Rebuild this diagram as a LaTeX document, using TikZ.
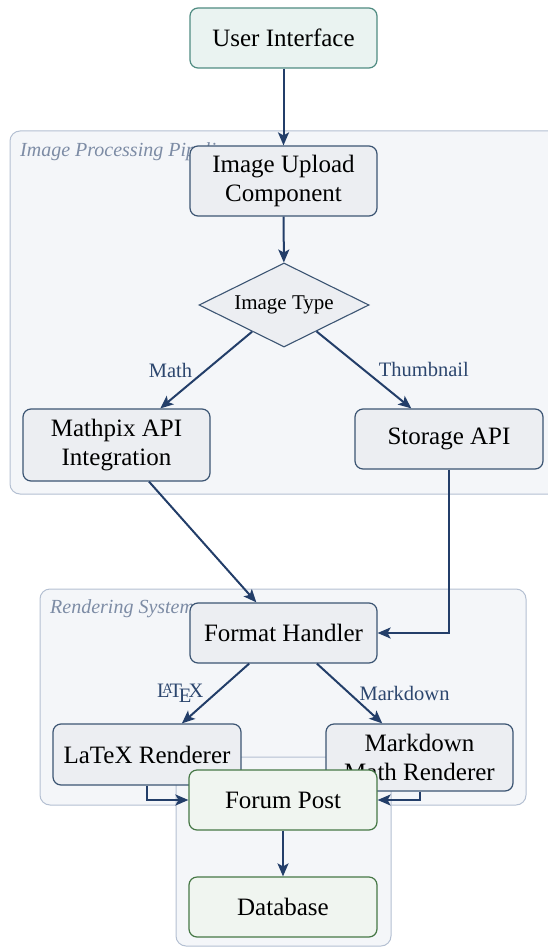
\documentclass[tikz,border=0pt]{standalone}
\usepackage{fontspec}
\setmainfont{Liberation Serif}
\usetikzlibrary{shapes.geometric,arrows.meta}
\definecolor{edgecol}{RGB}{35,62,105}
\definecolor{labcol}{RGB}{44,70,110}
\definecolor{nodeborder}{RGB}{60,85,115}
\definecolor{nodefill}{RGB}{236,238,242}
\definecolor{uifill}{RGB}{234,243,241}
\definecolor{uiborder}{RGB}{80,140,130}
\definecolor{greenfill}{RGB}{240,245,240}
\definecolor{greenborder}{RGB}{70,120,70}
\definecolor{groupfill}{RGB}{244,246,249}
\definecolor{groupborder}{RGB}{180,192,210}
\definecolor{grouplab}{RGB}{125,140,165}
\tikzset{
  box/.style={rectangle, rounded corners=8pt, draw=nodeborder, fill=nodefill, line width=1.2pt,
    minimum width=187pt, align=center, font=\fontsize{25}{29}\selectfont, inner sep=0pt},
  uibox/.style={box, draw=uiborder, fill=uifill},
  greenbox/.style={box, draw=greenborder, fill=greenfill},
  decision/.style={diamond, draw=nodeborder, fill=nodefill, line width=1.1pt, aspect=2,
    minimum width=170pt, minimum height=84pt, inner sep=0pt, font=\fontsize{21}{25}\selectfont},
  grp/.style={rounded corners=10pt, draw=groupborder, fill=groupfill, line width=1pt},
  grplabel/.style={anchor=base west, text=grouplab, font=\fontsize{20}{24}\selectfont\itshape, inner sep=0pt},
  flow/.style={draw=edgecol, line width=2pt, -{Stealth[length=13pt,width=11pt,inset=3pt]}},
  elabel/.style={text=labcol, font=\fontsize{20.5}{24}\selectfont, inner sep=0pt}
}
\begin{document}
\begin{tikzpicture}[x=1pt,y=-1pt]
\useasboundingbox (0,0) rectangle (548,949);
% groups
\path[grp] (10,131) rectangle (562,494);
\node[grplabel] (g1lab) at (20,157) {Image Processing Pipeline};
\path[grp] (40,589) rectangle (526,805);
\node[grplabel] (g2lab) at (50,613) {Rendering System};
\path[grp] (176,757) rectangle (391,946);
% nodes
\node[uibox, minimum height=60pt] (ui) at (283.5,38) {User Interface};
\node[box, minimum height=70pt] (upload) at (283.5,181) {Image Upload\\Component};
\node[decision] (type) at (284,305) {Image Type};
\node[box, minimum height=72pt] (mathpix) at (116.5,445) {Mathpix API\\Integration};
\node[box, minimum width=188pt, minimum height=60pt] (storage) at (449,439) {Storage API};
\node[box, minimum height=60pt] (format) at (283.5,633) {Format Handler};
\node[box, minimum width=188pt, minimum height=61pt] (latex) at (147,754.5) {LaTeX Renderer};
\node[box, minimum height=67pt] (markdown) at (419.5,757.5) {Markdown\\Math Renderer};
\node[greenbox, minimum width=188pt, minimum height=60pt] (forum) at (283,800) {Forum Post};
\node[greenbox, minimum width=188pt, minimum height=60pt] (db) at (283,907) {Database};
% edges
\draw[flow] (ui) -- (upload);
\draw[flow] (upload) -- (type);
\draw[flow] (type) -- node[elabel, midway, left=13pt] {Math} (mathpix);
\draw[flow] (type) -- node[elabel, midway, right=14pt] {Thumbnail} (storage);
\draw[flow] (mathpix) -- (format);
\draw[flow] (storage.south) |- (format.east);
\draw[flow] (format) -- node[elabel, midway, left=11pt] {\LaTeX} (latex);
\draw[flow] (format) -- node[elabel, midway, right=9pt] {Markdown} (markdown);
\draw[flow] (latex.south) |- (forum.west);
\draw[flow] (markdown.south) |- (forum.east);
\draw[flow] (forum) -- (db);
\end{tikzpicture}
\end{document}
